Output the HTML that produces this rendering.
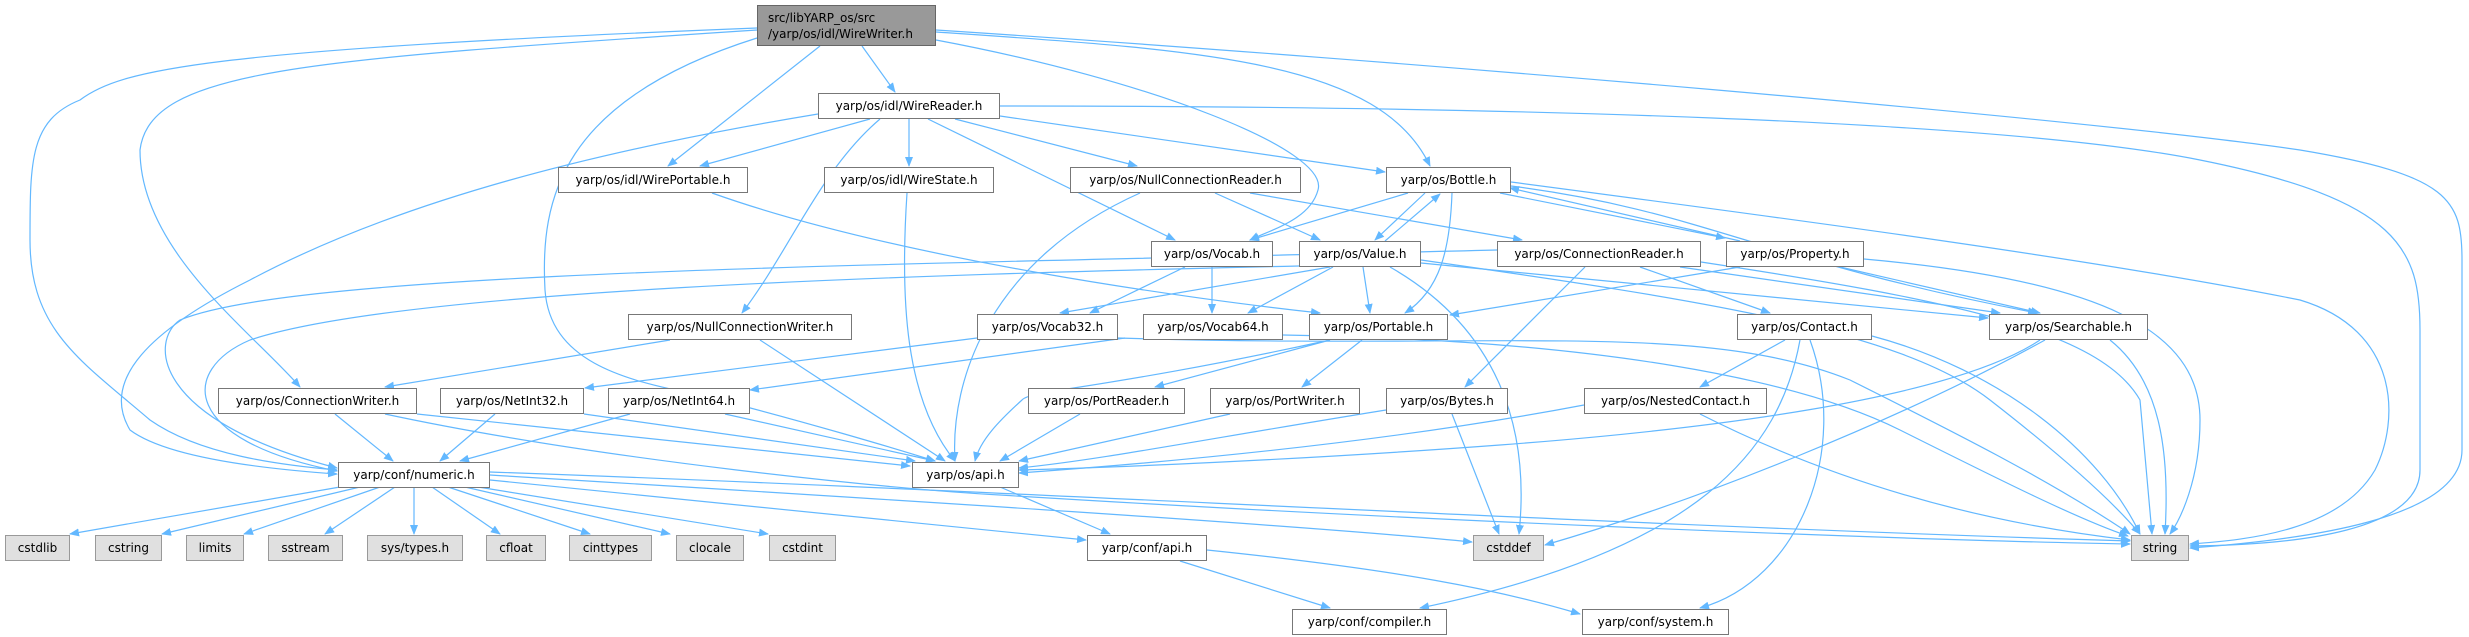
<!DOCTYPE html>
<html><head><meta charset="utf-8"><style>
html,body{margin:0;padding:0;background:#fff}
#c{position:relative;width:2469px;height:637px;overflow:hidden}
svg{position:absolute;left:0;top:0}
.n{position:absolute;box-sizing:border-box;border:1px solid #777;background:#fff;font:12px "DejaVu Sans","Liberation Sans",sans-serif;color:#000;display:flex;align-items:center;justify-content:center;white-space:nowrap;height:26px}
.g{background:#e0e0e0;border-color:#999}
.r{background:#999;border-color:#666;height:41px;flex-direction:column;align-items:flex-start;padding-left:10px;line-height:16px}
</style></head><body><div id="c">
<svg width="2469" height="637" viewBox="0 0 2469 637">
<defs><marker id="a" markerWidth="10" markerHeight="8" refX="9" refY="4" orient="auto" markerUnits="userSpaceOnUse"><path d="M0,0 L10,4 L0,8 z" fill="#63b8ff"/></marker></defs>
<g fill="none" stroke="#63b8ff" stroke-width="1.2" marker-end="url(#a)">
<path d="M862,46 L895,92"/>
<path d="M820,46 L668,166"/>
<path d="M757,38 C560,100 540,200 545,290 C550,360 620,380 700,395 C800,420 900,450 935,461"/>
<path d="M757,30 C300,60 150,70 140,150 C140,250 250,330 300,387"/>
<path d="M757,28 C200,50 120,70 80,100 C30,120 30,160 30,240 C30,330 80,360 150,420 C200,455 280,465 337,470"/>
<path d="M936,40 C1150,80 1330,150 1318,190 C1310,220 1270,230 1250,240"/>
<path d="M936,32 C1200,50 1380,60 1430,166"/>
<path d="M936,30 C1400,60 2100,120 2300,150 C2450,175 2462,200 2462,260 L2462,450 C2462,520 2300,540 2190,548"/>
<path d="M1000,106 C1500,106 2000,120 2200,160 C2400,200 2420,250 2420,330 L2420,470 C2420,530 2300,545 2190,546"/>
<path d="M870,119 L700,166"/>
<path d="M818,114 C600,150 400,200 250,280 C150,330 100,380 130,430 C170,460 280,470 337,474"/>
<path d="M880,119 C820,170 790,250 742,313"/>
<path d="M909,119 L909,166"/>
<path d="M928,119 L1175,240"/>
<path d="M955,119 L1137,166"/>
<path d="M1000,116 L1385,172"/>
<path d="M712,193 C900,260 1200,300 1320,313"/>
<path d="M907,193 C900,300 905,400 955,461"/>
<path d="M1140,193 C990,260 950,380 955,461"/>
<path d="M1215,193 L1320,240"/>
<path d="M1250,193 L1522,240"/>
<path d="M1408,193 L1250,240"/>
<path d="M1425,193 L1375,240"/>
<path d="M1385,241 L1440,194"/>
<path d="M1452,193 C1450,250 1440,290 1405,313"/>
<path d="M1500,193 L1725,238"/>
<path d="M1740,241 L1510,188"/>
<path d="M1511,186 C1700,210 1760,260 2037,313"/>
<path d="M1511,182 C1800,220 2100,260 2300,300 C2400,330 2400,420 2375,470 C2340,530 2250,540 2190,544"/>
<path d="M1330,267 L1060,313"/>
<path d="M1333,267 L1248,313"/>
<path d="M1363,267 L1370,313"/>
<path d="M1390,267 C1500,330 1530,430 1519,534"/>
<path d="M1421,263 L1988,318"/>
<path d="M1421,260 C1700,300 1900,330 1990,400 C2080,470 2120,510 2140,534"/>
<path d="M1299,266 C900,275 400,290 250,340 C180,370 180,440 337,471"/>
<path d="M1497,250 C900,265 300,270 180,320 C150,340 150,420 337,468"/>
<path d="M1185,267 L1090,313"/>
<path d="M1212,267 L1212,313"/>
<path d="M1585,267 L1465,387"/>
<path d="M1640,267 L1770,313"/>
<path d="M1680,267 L2000,313"/>
<path d="M1701,262 C1950,300 2100,330 2140,400 L2152,534"/>
<path d="M1740,267 L1450,315"/>
<path d="M1840,267 L2040,313"/>
<path d="M1864,259 C2100,280 2200,330 2200,420 C2200,480 2180,520 2170,534"/>
<path d="M670,340 L385,387"/>
<path d="M760,340 L945,461"/>
<path d="M977,338 L585,388"/>
<path d="M1118,338 C1500,350 1700,320 1850,380 C1950,430 2050,480 2130,534"/>
<path d="M1125,338 L750,390"/>
<path d="M1283,335 C1600,340 1800,380 1900,430 C2000,480 2080,520 2128,536"/>
<path d="M1330,340 L1155,387"/>
<path d="M1362,340 L1302,387"/>
<path d="M1330,340 C1100,390 1030,390 1022,400 C1000,420 980,440 975,461"/>
<path d="M1785,340 L1700,387"/>
<path d="M1872,336 C2000,370 2100,450 2140,534"/>
<path d="M1800,340 C1780,450 1700,550 1420,608"/>
<path d="M1810,340 C1850,450 1800,580 1700,608"/>
<path d="M2040,340 C1950,400 1700,430 1500,445 C1300,460 1100,468 1019,470"/>
<path d="M2045,340 C1900,420 1700,500 1545,545"/>
<path d="M2110,340 C2160,380 2170,450 2165,534"/>
<path d="M335,414 L393,461"/>
<path d="M417,414 L910,466"/>
<path d="M385,414 C600,460 900,490 1000,495 C1400,520 1900,540 2130,544"/>
<path d="M495,414 L440,461"/>
<path d="M584,414 L915,461"/>
<path d="M630,414 L460,461"/>
<path d="M725,414 L935,461"/>
<path d="M1080,414 L1000,461"/>
<path d="M1230,414 L1019,461"/>
<path d="M1386,410 C1200,440 1100,460 1019,468"/>
<path d="M1452,414 L1499,534"/>
<path d="M1584,405 C1400,440 1200,460 1019,473"/>
<path d="M1700,414 C1850,490 2000,525 2130,540"/>
<path d="M340,487 L70,534"/>
<path d="M360,487 L162,534"/>
<path d="M380,487 L244,534"/>
<path d="M395,487 L325,534"/>
<path d="M414,487 L414,534"/>
<path d="M432,487 L500,534"/>
<path d="M448,487 L590,534"/>
<path d="M465,487 L670,534"/>
<path d="M478,487 L768,534"/>
<path d="M490,475 C900,500 1300,525 1472,542"/>
<path d="M490,472 C1000,490 1600,525 2130,541"/>
<path d="M490,480 L1086,540"/>
<path d="M1000,487 L1110,534"/>
<path d="M1180,561 L1330,608"/>
<path d="M1207,550 C1400,570 1500,590 1580,614"/>
</g></svg>
<div class="n r" style="left:757px;top:5px;width:179px"><span>src/libYARP_os/src</span><span>/yarp/os/idl/WireWriter.h</span></div>
<div class="n" style="left:818px;top:93px;width:182px">yarp/os/idl/WireReader.h</div>
<div class="n" style="left:558px;top:167px;width:190px">yarp/os/idl/WirePortable.h</div>
<div class="n" style="left:824px;top:167px;width:170px">yarp/os/idl/WireState.h</div>
<div class="n" style="left:1070px;top:167px;width:231px">yarp/os/NullConnectionReader.h</div>
<div class="n" style="left:1386px;top:167px;width:125px">yarp/os/Bottle.h</div>
<div class="n" style="left:1151px;top:241px;width:122px">yarp/os/Vocab.h</div>
<div class="n" style="left:1299px;top:241px;width:122px">yarp/os/Value.h</div>
<div class="n" style="left:1497px;top:241px;width:204px">yarp/os/ConnectionReader.h</div>
<div class="n" style="left:1726px;top:241px;width:138px">yarp/os/Property.h</div>
<div class="n" style="left:628px;top:314px;width:224px">yarp/os/NullConnectionWriter.h</div>
<div class="n" style="left:977px;top:314px;width:141px">yarp/os/Vocab32.h</div>
<div class="n" style="left:1143px;top:314px;width:140px">yarp/os/Vocab64.h</div>
<div class="n" style="left:1309px;top:314px;width:139px">yarp/os/Portable.h</div>
<div class="n" style="left:1737px;top:314px;width:135px">yarp/os/Contact.h</div>
<div class="n" style="left:1989px;top:314px;width:159px">yarp/os/Searchable.h</div>
<div class="n" style="left:218px;top:388px;width:199px">yarp/os/ConnectionWriter.h</div>
<div class="n" style="left:440px;top:388px;width:144px">yarp/os/NetInt32.h</div>
<div class="n" style="left:608px;top:388px;width:142px">yarp/os/NetInt64.h</div>
<div class="n" style="left:1028px;top:388px;width:157px">yarp/os/PortReader.h</div>
<div class="n" style="left:1210px;top:388px;width:150px">yarp/os/PortWriter.h</div>
<div class="n" style="left:1386px;top:388px;width:122px">yarp/os/Bytes.h</div>
<div class="n" style="left:1584px;top:388px;width:183px">yarp/os/NestedContact.h</div>
<div class="n" style="left:338px;top:462px;width:152px">yarp/conf/numeric.h</div>
<div class="n" style="left:912px;top:462px;width:107px">yarp/os/api.h</div>
<div class="n g" style="left:5px;top:535px;width:65px">cstdlib</div>
<div class="n g" style="left:95px;top:535px;width:67px">cstring</div>
<div class="n g" style="left:186px;top:535px;width:58px">limits</div>
<div class="n g" style="left:268px;top:535px;width:75px">sstream</div>
<div class="n g" style="left:367px;top:535px;width:96px">sys/types.h</div>
<div class="n g" style="left:486px;top:535px;width:60px">cfloat</div>
<div class="n g" style="left:569px;top:535px;width:83px">cinttypes</div>
<div class="n g" style="left:676px;top:535px;width:68px">clocale</div>
<div class="n g" style="left:769px;top:535px;width:67px">cstdint</div>
<div class="n" style="left:1087px;top:535px;width:120px">yarp/conf/api.h</div>
<div class="n g" style="left:1473px;top:535px;width:71px">cstddef</div>
<div class="n g" style="left:2131px;top:535px;width:58px">string</div>
<div class="n" style="left:1292px;top:609px;width:155px">yarp/conf/compiler.h</div>
<div class="n" style="left:1582px;top:609px;width:147px">yarp/conf/system.h</div>
</div></body></html>
